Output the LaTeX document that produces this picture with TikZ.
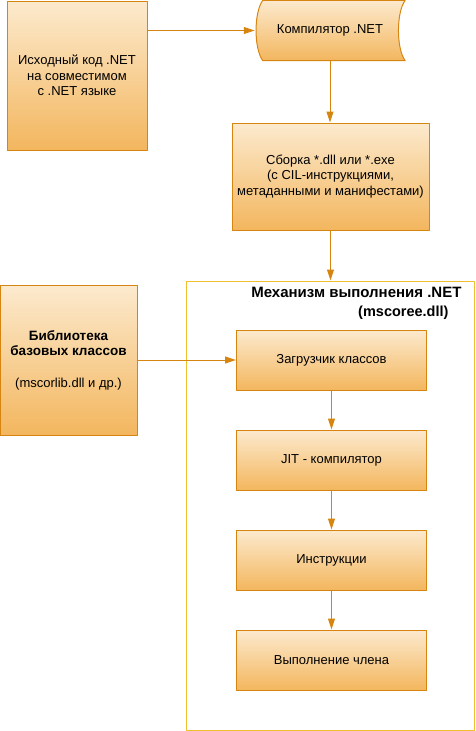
\documentclass[tikz,border=0pt]{standalone}
\usepackage{fontspec}
\setmainfont{Liberation Sans}
\usetikzlibrary{arrows.meta}
\definecolor{boxline}{RGB}{214,134,16}
\definecolor{boxtop}{RGB}{252,234,206}
\definecolor{boxbot}{RGB}{243,182,94}
\definecolor{frameline}{RGB}{240,192,48}
\begin{document}
\begin{tikzpicture}[x=1pt, y=-1pt, line join=round,
	font=\fontsize{13}{15.5}\selectfont,
	blok/.style={draw=boxline, line width=1pt, top color=boxtop, bottom color=boxbot,
		inner sep=0pt, align=center},
	arr/.style={draw=boxline, line width=1pt, -{Triangle[length=11pt,width=7pt]}}]
	\useasboundingbox (0,0) rectangle (475,731);
	% frame of the runtime
	\node[draw=frameline, line width=1pt, minimum width=288pt, minimum height=449pt, inner sep=0pt] (engine) at (330,505.5) {};
	\node[anchor=east, font=\fontsize{15}{16}\selectfont\bfseries] (engtitle) at (465,292) {Механизм выполнения .NET};
	\node[anchor=east, font=\fontsize{14.5}{16}\selectfont\bfseries] (engdll) at (452,313) {(mscoree.dll)};
	% boxes
	\node[blok, minimum width=140pt, minimum height=149pt] (src) at (77,75.5) {Исходный код .NET\\на совместимом\\с .NET языке};
	\node[inner sep=0pt, minimum width=150pt, minimum height=60pt] (comp) at (330,30.5) {};
	\shade[top color=boxtop, bottom color=boxbot, draw=boxline, line width=1pt]
		(comp.north west) ++(8,0) -- (comp.north east)
		.. controls ++(-9,12) and ++(-9,-12) .. (comp.south east)
		-- ([xshift=8pt]comp.south west)
		.. controls ++(-9,-12) and ++(-9,12) .. ([xshift=8pt]comp.north west) -- cycle;
	\node at (comp) {Компилятор .NET};
	\node[blok, minimum width=197pt, minimum height=107pt] (asm) at (330.5,176.5) {Сборка *.dll или *.exe\\(с CIL-инструкциями,\\метаданными и манифестами)};
	\node[blok, minimum width=137pt, minimum height=150pt] (lib) at (68.5,360) {\textbf{\fontsize{13.5}{16}\selectfont Библиотека}\\\textbf{\fontsize{13.5}{16}\selectfont базовых классов}\\[16pt](mscorlib.dll и др.)};
	\node[blok, minimum width=190pt, minimum height=60pt] (loader) at (331.5,360) {Загрузчик классов};
	\node[blok, minimum width=190pt, minimum height=60pt] (jit) at (331.5,460) {JIT - компилятор};
	\node[blok, minimum width=190pt, minimum height=60pt] (instr) at (331.5,560) {Инструкции};
	\node[blok, minimum width=190pt, minimum height=60pt] (exec) at (331.5,660) {Выполнение члена};
	% connectors
	\draw[arr] (src.east |- comp) -- (comp.west);
	\draw[arr] (comp.south) -- (comp.south |- asm.north);
	\draw[arr] (asm.south) -- (asm.south |- engine.north);
	\draw[arr] (lib.east) -- (loader.west);
	\foreach \a/\b in {loader/jit, jit/instr, instr/exec}
		\draw[arr] (\a.south) -- (\b.north);
\end{tikzpicture}
\end{document}
